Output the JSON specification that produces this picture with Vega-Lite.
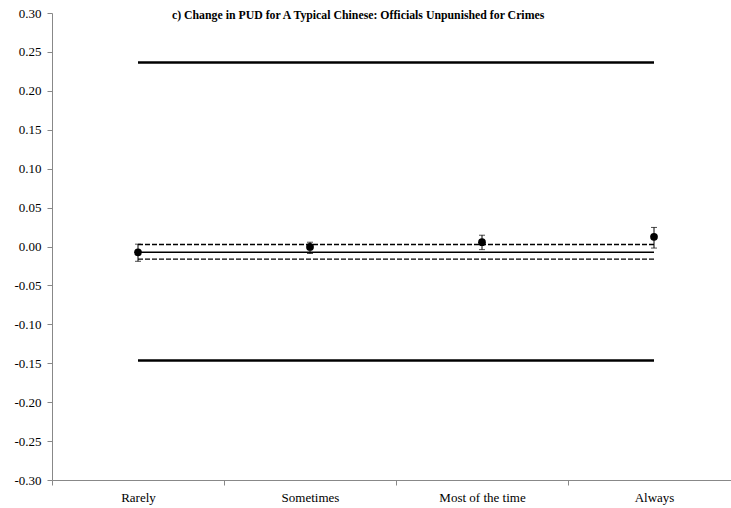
{
  "$schema": "https://vega.github.io/schema/vega-lite/v6.json",
  "width": 688,
  "height": 467,
  "autosize": {"type": "none"},
  "padding": {"left": 52, "top": 13, "right": 0, "bottom": 28},
  "background": "white",
  "config": {
    "view": {"stroke": null},
    "font": "Liberation Serif"
  },
  "title": {
    "text": "c) Change in PUD for A Typical Chinese: Officials Unpunished for Crimes",
    "anchor": "start",
    "dx": 158,
    "dy": 19,
    "font": "Liberation Serif",
    "fontSize": 11.8,
    "fontWeight": "bold",
    "color": "black"
  },
  "datasets": {
    "lines": [
      {"cat": "Rarely", "series": "upper", "value": 0.2365},
      {"cat": "Always", "series": "upper", "value": 0.2365},
      {"cat": "Rarely", "series": "lower", "value": -0.1465},
      {"cat": "Always", "series": "lower", "value": -0.1465},
      {"cat": "Rarely", "series": "mean", "value": -0.0073},
      {"cat": "Always", "series": "mean", "value": -0.0073},
      {"cat": "Rarely", "series": "ciHigh", "value": 0.0026},
      {"cat": "Always", "series": "ciHigh", "value": 0.0026},
      {"cat": "Rarely", "series": "ciLow", "value": -0.0163},
      {"cat": "Always", "series": "ciLow", "value": -0.0163}
    ],
    "points": [
      {"cat": "Rarely", "value": -0.0075, "lo": -0.019, "hi": 0.003},
      {"cat": "Sometimes", "value": -0.0005, "lo": -0.009, "hi": 0.0055},
      {"cat": "Most of the time", "value": 0.0055, "lo": -0.004, "hi": 0.0145},
      {"cat": "Always", "value": 0.0125, "lo": -0.002, "hi": 0.0245}
    ]
  },
  "encoding": {
    "x": {
      "field": "cat",
      "type": "nominal",
      "sort": ["Rarely", "Sometimes", "Most of the time", "Always"],
      "scale": {"type": "band", "paddingInner": 0, "paddingOuter": 0, "domain": ["Rarely", "Sometimes", "Most of the time", "Always"]},
      "axis": {
        "title": null,
        "labelAngle": 0,
        "tickBand": "extent",
        "labelPadding": 6,
        "labelFont": "Liberation Serif",
        "labelFontSize": 13,
        "labelColor": "black",
        "domainColor": "#888888",
        "tickColor": "#888888",
        "tickSize": 5,
        "grid": false
      }
    },
    "y": {
      "field": "value",
      "type": "quantitative",
      "scale": {"domain": [-0.3, 0.3], "nice": false, "zero": false},
      "axis": {
        "title": null,
        "values": [-0.3, -0.25, -0.2, -0.15, -0.1, -0.05, 0, 0.05, 0.1, 0.15, 0.2, 0.25, 0.3],
        "labelExpr": "replace(format(datum.value, '.2f'), '\u2212', '-')",
        "labelOverlap": false,
        "labelFont": "Liberation Serif",
        "labelFontSize": 13,
        "labelColor": "black",
        "labelPadding": 6,
        "domainColor": "#888888",
        "tickColor": "#888888",
        "tickSize": 5,
        "grid": false
      }
    }
  },
  "layer": [
    {
      "data": {"name": "lines"},
      "transform": [{"filter": "datum.series === 'upper' || datum.series === 'lower'"}],
      "mark": {"type": "line", "color": "black", "strokeWidth": 2.5},
      "encoding": {
        "detail": {"field": "series"}
      }
    },
    {
      "data": {"name": "lines"},
      "transform": [{"filter": "datum.series === 'mean'"}],
      "mark": {"type": "line", "color": "black", "strokeWidth": 1.5},
      "encoding": {}
    },
    {
      "data": {"name": "lines"},
      "transform": [{"filter": "datum.series === 'ciHigh' || datum.series === 'ciLow'"}],
      "mark": {"type": "line", "color": "black", "strokeWidth": 1.3, "strokeDash": [5, 2]},
      "encoding": {
        "detail": {"field": "series"}
      }
    },
    {
      "data": {"name": "points"},
      "mark": {"type": "rule", "color": "black", "strokeWidth": 1},
      "encoding": {
        "y": {"field": "lo", "type": "quantitative"},
        "y2": {"field": "hi"}
      }
    },
    {
      "data": {"name": "points"},
      "mark": {"type": "tick", "orient": "horizontal", "color": "black", "size": 6, "thickness": 1},
      "encoding": {
        "y": {"field": "lo", "type": "quantitative"}
      }
    },
    {
      "data": {"name": "points"},
      "mark": {"type": "tick", "orient": "horizontal", "color": "black", "size": 6, "thickness": 1},
      "encoding": {
        "y": {"field": "hi", "type": "quantitative"}
      }
    },
    {
      "data": {"name": "points"},
      "mark": {"type": "circle", "color": "black", "opacity": 1, "size": 60},
      "encoding": {}
    }
  ]
}
